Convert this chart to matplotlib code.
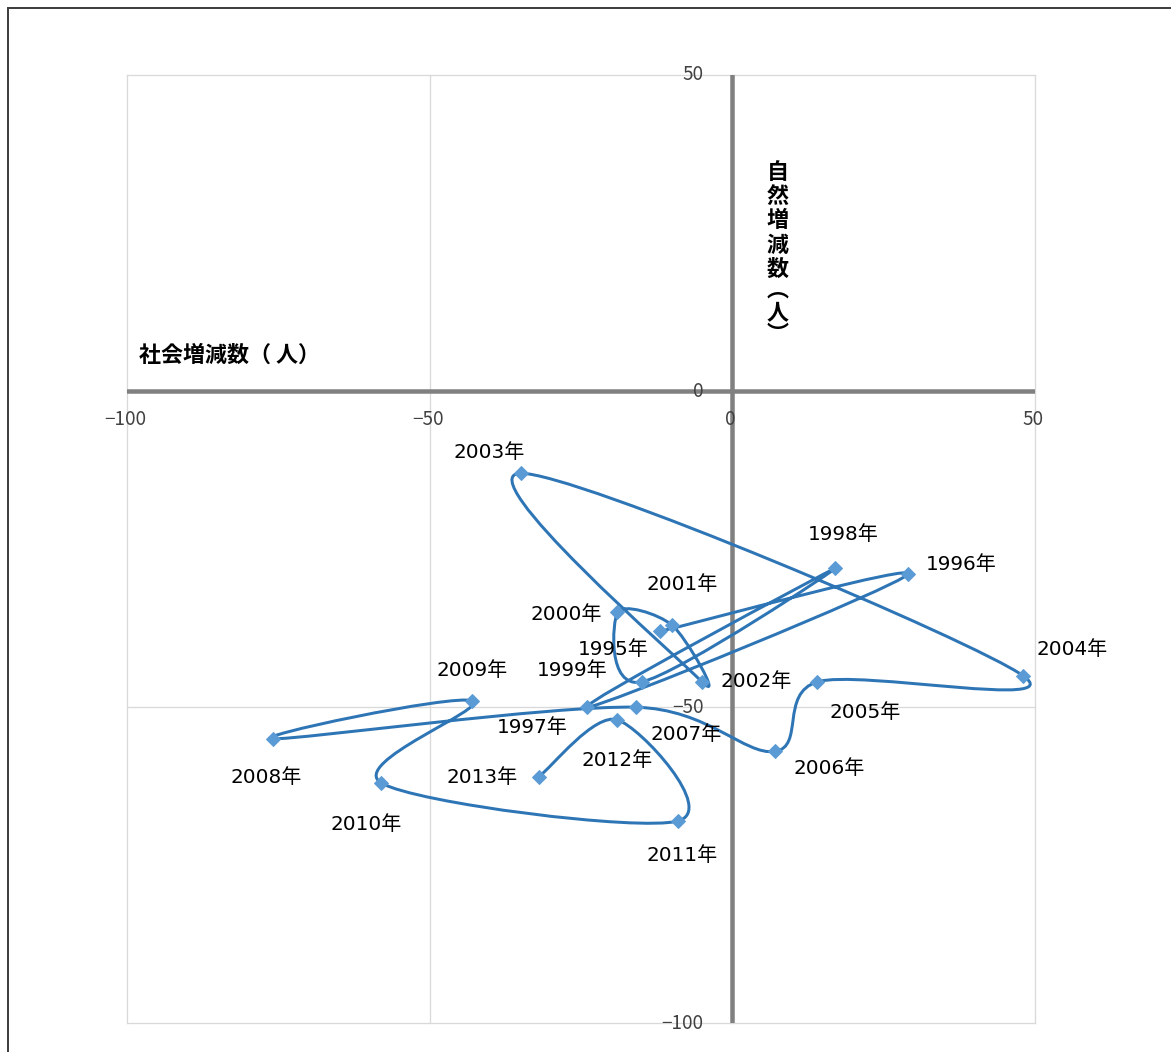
import matplotlib
matplotlib.use("Agg")
import matplotlib.pyplot as plt
from matplotlib.path import Path
from matplotlib.patches import PathPatch, Rectangle
import numpy as np

# Data (social change vs natural change, persons)
years = [1995, 1996, 1997, 1998, 1999, 2000, 2001, 2002, 2003, 2004,
         2005, 2006, 2007, 2008, 2009, 2010, 2011, 2012, 2013]
social = [-12, 29, -24, 17, -15, -19, -10, -5, -35, 48,
          14, 7, -16, -76, -43, -58, -9, -19, -32]
natural = [-38, -29, -50, -28, -46, -35, -37, -46, -13, -45,
           -46, -57, -50, -55, -49, -62, -68, -52, -61]

# label offsets from the point (px right, px down)
label_dx = [-47, 53, -55, 8, -70, -51, 10, 54, -32, 49,
            48, 54, 51, -6, 0, -15, 4, 0, -57]
label_dy = [16, -12, 18, -36, -13, 0, -43, -2, -23, -28,
            29, 15, 25, 37, -32, 39, 33, 39, -1]

x_ticks = [-100, -50, 0, 50]
y_ticks = [-100, -50, 0, 50]

x_title = "社会増減数（ 人）"
y_title = "自然増減数︵人︶"
# vertical title: distance of each glyph centre below the top gridline (px)
y_title_pos = [98, 122, 146, 170, 194, 215, 238, 259]

plt.rcParams['font.family'] = ['DejaVu Sans', 'Noto Sans CJK JP']


def smooth_path(xs, ys):
    # Excel-style smoothed line: bezier segments, 1/6 tangents capped at half the chord
    pts = np.column_stack([xs, ys]).astype(float)
    n = len(pts)
    verts = [pts[0]]
    codes = [Path.MOVETO]
    for i in range(n - 1):
        p0 = pts[max(i - 1, 0)]
        p1 = pts[i]
        p2 = pts[i + 1]
        p3 = pts[min(i + 2, n - 1)]
        d12 = np.hypot(*(p2 - p1))
        d02 = np.hypot(*(p2 - p0))
        d13 = np.hypot(*(p3 - p1))
        f1 = 1 / 6 if d02 / 6 < d12 / 2 else d12 / (2 * d02)
        f2 = 1 / 6 if d13 / 6 < d12 / 2 else d12 / (2 * d13)
        c1 = p1 + f1 * (p2 - p0)
        c2 = p2 - f2 * (p3 - p1)
        verts += [c1, c2, p2]
        codes += [Path.CURVE4] * 3
    return Path(verts, codes)


W, H = 1171, 1052
fig = plt.figure(figsize=(W / 72, H / 72), dpi=72)
ax = fig.add_axes([127.3 / W, 1 - 1023.3 / H, 907.7 / W, 948.3 / H])
ax.set_xlim(-100, 50)
ax.set_ylim(-100, 50)
for s in ax.spines.values():
    s.set_visible(False)
ax.set_xticks([])
ax.set_yticks([])

# gridlines
for v in x_ticks:
    ax.axvline(v, color='#D9D9D9', lw=1.3, zorder=0, clip_on=False)
for v in y_ticks:
    ax.axhline(v, color='#D9D9D9', lw=1.3, zorder=0, clip_on=False)

# main axes through the origin
ax.axhline(0, color='#808080', lw=4.5, zorder=1)
ax.axvline(0, color='#808080', lw=4.5, zorder=1)


def fmt(v):
    return str(v).replace('-', '\u2212')


tick_font = ['Noto Sans CJK JP', 'DejaVu Sans']
for v in x_ticks:
    ax.annotate(fmt(v), (v, 0), xytext=(-2, -28), textcoords='offset points',
                ha='center', va='center', fontsize=19, color='#404040',
                family=tick_font, annotation_clip=False)
for v in y_ticks:
    ax.annotate(fmt(v), (0, v), xytext=(-29, 0), textcoords='offset points',
                ha='right', va='center', fontsize=19, color='#404040',
                family=tick_font, annotation_clip=False)

# smoothed line + markers
ax.add_patch(PathPatch(smooth_path(social, natural), fill=False,
                       edgecolor='#2E75B6', lw=3, zorder=3))
ax.plot(social, natural, ls='none', marker='D', ms=10, color='#5B9BD5', zorder=4)

for yr, x, y, dx, dy in zip(years, social, natural, label_dx, label_dy):
    ax.annotate(f"{yr}年", (x, y), xytext=(dx, -dy), textcoords='offset points',
                ha='center', va='center_baseline', fontsize=20, color='black', zorder=5)

# axis titles
ax.annotate(x_title, (-100, 0), xytext=(12, 36), textcoords='offset points',
            ha='left', va='center', fontsize=22, fontweight='bold',
            family=['Noto Sans CJK JP'])
for ch, off in zip(y_title, y_title_pos):
    ax.annotate(ch, (0, 50), xytext=(45, -off), textcoords='offset points',
                ha='center', va='center', fontsize=22, fontweight='bold',
                family=['Noto Sans CJK JP'])

# outer chart frame (right and bottom edges fall outside the picture)
fig.add_artist(Rectangle((8 / W, -0.1), 1.2, 1 - 8 / H + 0.1, transform=fig.transFigure,
                         fill=False, edgecolor='#404040', lw=2))

fig.savefig('out.png', dpi=72)
